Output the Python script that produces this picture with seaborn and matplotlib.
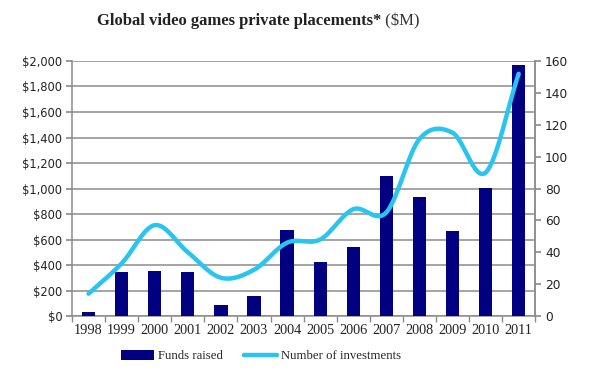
import numpy as np
import pandas as pd
import matplotlib
matplotlib.use("Agg")
import matplotlib.pyplot as plt
import seaborn as sns
from matplotlib.lines import Line2D
from matplotlib.patches import Patch

years = ["1998", "1999", "2000", "2001", "2002", "2003", "2004",
         "2005", "2006", "2007", "2008", "2009", "2010", "2011"]
funds = [30, 345, 355, 345, 90, 160, 672, 424, 538, 1100, 936, 664, 1004, 1966]
investments = [14, 33, 57, 40, 24, 29, 46, 48, 67, 65, 111, 115, 90, 152]
left_ticks = [0, 200, 400, 600, 800, 1000, 1200, 1400, 1600, 1800, 2000]
right_ticks = [0, 20, 40, 60, 80, 100, 120, 140, 160]

sns.set_theme(style="white")
plt.rcParams['font.family'] = ['Liberation Serif', 'DejaVu Serif']

BAR = "#000080"
LINE = "#29C5F0"
GRID = "#8C8C8C"

fig = plt.figure(figsize=(6, 3.69), dpi=100)
ax = fig.add_axes([0.12, 0.1436, 0.772, 0.6911])

df = pd.DataFrame({"year": years, "funds": funds})
sns.barplot(data=df, x="year", y="funds", color=BAR, width=0.4,
            saturation=1, ax=ax, zorder=3)
for p in ax.patches:
    p.set_edgecolor("none")

ax.set_ylim(0, 2000)
ax.set_xlim(-0.5, len(years) - 0.5)
ax.set_yticks(left_ticks)
ax.set_yticklabels([f"${v:,}" for v in left_ticks], family="DejaVu Sans",
                   fontsize=8.3, color="#222222")
ax.set_xlabel("")
ax.set_ylabel("")
ax.yaxis.grid(True, color=GRID, linewidth=1.1, zorder=0)
ax.set_axisbelow(True)

ax.set_xticks(np.arange(len(years)))
ax.set_xticklabels(years, fontsize=10.3, color="#222222")
ax.tick_params(axis="x", length=0, pad=6)
ax.set_xticks(np.arange(-0.5, len(years)), minor=True)
ax.tick_params(axis="x", which="minor", length=4, color=GRID, direction="out", bottom=True)
ax.tick_params(axis="y", length=4, color=GRID, direction="out", left=True, pad=3)

ax.spines["top"].set_visible(False)
for s in ["left", "right", "bottom"]:
    ax.spines[s].set_color(GRID)
    ax.spines[s].set_linewidth(1.1)

ax2 = ax.twinx()
ax2.set_ylim(0, 160)
ax2.set_yticks(right_ticks)
ax2.set_yticklabels([str(v) for v in right_ticks], family="DejaVu Sans",
                    fontsize=8.8, color="#222222")
ax2.tick_params(axis="y", length=4, color=GRID, direction="out", right=True, pad=3)
for s in ["top", "left", "bottom"]:
    ax2.spines[s].set_visible(False)
ax2.spines["right"].set_color(GRID)
ax2.spines["right"].set_linewidth(1.1)
ax2.grid(False)

# smoothed line (Catmull-Rom through the data points, like Excel's smoothing)
xs = np.arange(len(investments), dtype=float)
ys = np.array(investments, dtype=float)
px = np.concatenate([[2 * xs[0] - xs[1]], xs, [2 * xs[-1] - xs[-2]]])
py = np.concatenate([[2 * ys[0] - ys[1]], ys, [2 * ys[-1] - ys[-2]]])
cx, cy = [], []
t = np.linspace(0, 1, 30)
def cr(a0, a1, a2, a3):
    return 0.5 * ((2 * a1) + (-a0 + a2) * t + (2 * a0 - 5 * a1 + 4 * a2 - a3) * t ** 2
                  + (-a0 + 3 * a1 - 3 * a2 + a3) * t ** 3)
for i in range(1, len(px) - 2):
    cx.extend(cr(px[i - 1], px[i], px[i + 1], px[i + 2]))
    cy.extend(cr(py[i - 1], py[i], py[i + 1], py[i + 2]))
ax2.plot(cx, cy, color=LINE, linewidth=3.2, solid_capstyle="round", zorder=5)

# title: bold part + regular part, placed as in the reference
fig.canvas.draw()
r = fig.canvas.get_renderer()
t1 = fig.text(0, 0.942, "Global video games private placements*", ha="left",
              va="center", fontsize=12, fontweight="bold", color="#222222")
t2 = fig.text(0, 0.942, " ($M)", ha="left", va="center", fontsize=12, color="#333333")
w1 = t1.get_window_extent(r).width / fig.bbox.width
w2 = t2.get_window_extent(r).width / fig.bbox.width
x0 = 0.43 - (w1 + w2) / 2
t1.set_x(x0)
t2.set_x(x0 + w1)

handles = [Patch(facecolor=BAR, edgecolor="none"),
           Line2D([0], [0], color=LINE, linewidth=3.2)]
fig.legend(handles, ["Funds raised", "Number of investments"], loc="center",
           bbox_to_anchor=(0.435, 0.035), ncol=2, frameon=False, fontsize=9.2,
           handlelength=2.6, handleheight=0.8, columnspacing=1.6, handletextpad=0.3)

fig.savefig("out.png", dpi=100)
